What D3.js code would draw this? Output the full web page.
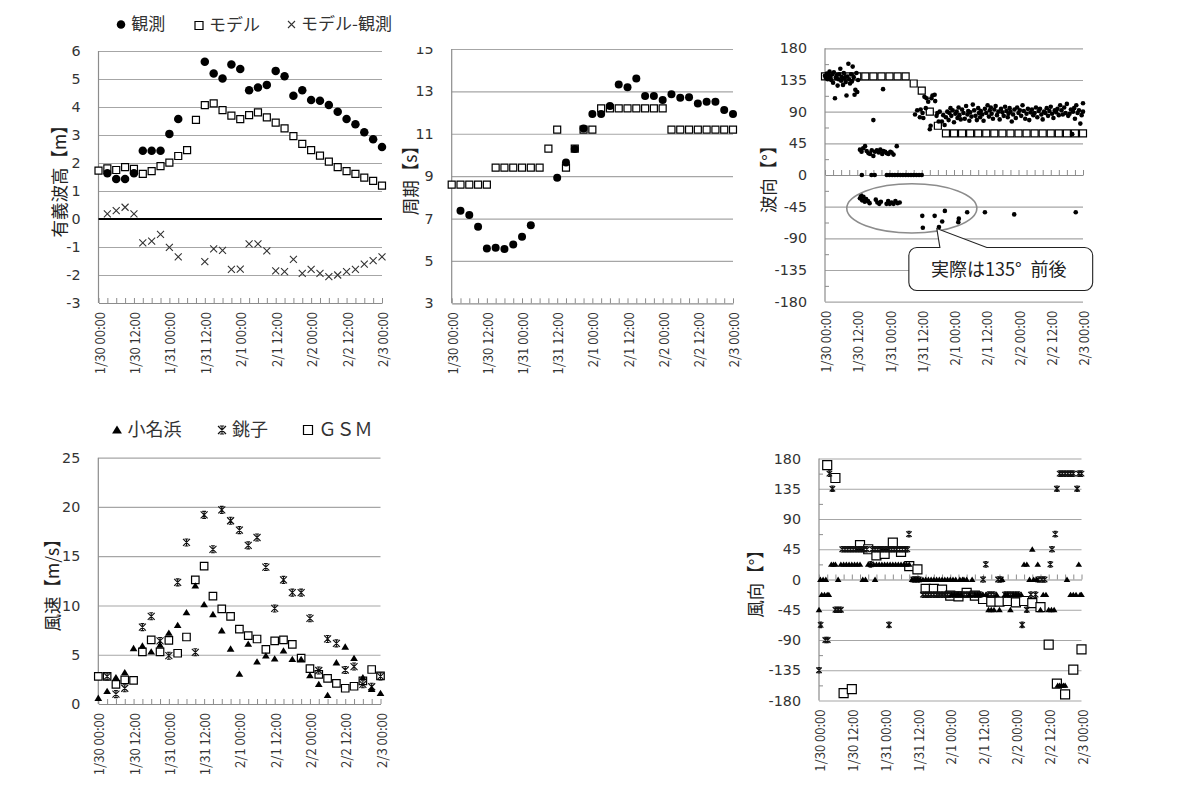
<!DOCTYPE html>
<html>
<head>
<meta charset="utf-8">
<script src="https://cdn.jsdelivr.net/npm/d3@7"></script>
<style>
  body { margin: 0; background: #fff; }
  svg { display: block; }
</style>
</head>
<body>
<svg id="chart" width="1189" height="790"></svg>
<script>
// ---------- time axis (hours from 1/30 00:00) ----------
const hours3h = [0,3,6,9,12,15,18,21,24,27,30,33,36,39,42,45,48,51,54,57,60,63,66,69,72,75,78,81,84,87,90,93,96];
const timeTickHours = [0,12,24,36,48,60,72,84,96];
const timeTickLabels = ["1/30 00:00","1/30 12:00","1/31 00:00","1/31 12:00","2/1 00:00","2/1 12:00","2/2 00:00","2/2 12:00","2/3 00:00"];

// ---------- significant wave height [m] ----------
const heightObs   = [null,1.63,1.43,1.43,1.63,2.44,2.44,2.44,3.04,3.57,null,null,5.62,5.2,5.02,5.52,5.36,4.6,4.7,4.79,5.29,5.1,4.4,4.6,4.25,4.22,4.07,3.83,3.57,3.38,3.1,2.85,2.57];
const heightModel = [1.73,1.81,1.75,1.85,1.79,1.61,1.71,1.89,2.01,2.25,2.46,3.54,4.07,4.13,3.89,3.69,3.57,3.71,3.81,3.63,3.44,3.24,2.96,2.68,2.46,2.26,2.05,1.85,1.71,1.61,1.48,1.36,1.19];
const heightDiff  = [null,0.18,0.30,0.42,0.18,-0.85,-0.79,-0.55,-1.01,-1.35,null,null,-1.52,-1.07,-1.12,-1.8,-1.79,-0.89,-0.89,-1.14,-1.85,-1.88,-1.44,-1.94,-1.8,-1.94,-2.06,-2.0,-1.88,-1.8,-1.61,-1.49,-1.35];
const heightTicks = [-3,-2,-1,0,1,2,3,4,5,6];

// ---------- wave period [s] ----------
const periodObs   = [null,7.37,7.17,6.61,5.59,5.62,5.56,5.78,6.14,6.68,null,null,8.92,9.65,10.28,11.25,11.93,11.93,12.31,13.33,13.19,13.61,12.78,12.78,12.59,12.87,12.7,12.72,12.43,12.51,12.51,12.12,11.93];
const periodModel = [8.6,8.6,8.6,8.6,8.6,9.4,9.4,9.4,9.4,9.4,9.4,10.3,11.2,9.4,10.3,11.2,11.2,12.2,12.2,12.2,12.2,12.2,12.2,12.2,12.2,11.2,11.2,11.2,11.2,11.2,11.2,11.2,11.2];
const periodTicks = [3,5,7,9,11,13,15];

// ---------- wave direction [deg]: observed [hour, deg], model every 3 h ----------
const waveDirObs = [
  [0,141],[0.3,138],[0.7,144],[1,136],[1.3,142],[1.7,147],[2,139],[2.3,135],[2.7,143],[3,131],[3.3,146],[3.7,109],
  [4,138],[4.3,141],[4.7,127],[5,136],[5.3,143],[5.7,151],[6,134],[6.3,139],[6.7,128],[7,145],[7.3,137],[7.7,132],
  [8,113],[8.3,140],[8.7,158],[9,136],[9.3,130],[9.7,143],[10,133],[10.3,154],[10.7,139],[11,114],[11.3,121],[11.7,145],
  [12,118],[12.3,135],
  [13,36],[13.6,33],[14.2,38],[14.9,41],[15.5,34],[16.2,31],[16.8,30],[17.4,35],[18,27],[18.6,33],[19.3,35],[20,32],
  [20.6,36],[21.3,30],[21.7,34],[22.4,33],[23,31],[23.6,30],[24.3,33],[24.8,32],[25.5,29],[26.7,41],[18,78],[21.6,122],
  [13.7,0],[17.3,0],[18.5,0],[23,0],[24,0],[25,0],[26,0],[27,0],[28,0],[29,0],[30,0],[31,0],[32,0],[33,0],[34,0],[35,0],[36,0],
  [13,-33],[13.4,-29],[13.8,-36],[14.3,-31],[14.8,-38],[15.3,-34],[16,-37],[16.6,-40],[18.9,-35],[19.5,-39],[20.2,-41],
  [20.8,-38],[22.9,-41],[23.5,-37],[24.1,-41],[24.8,-39],[25.5,-41],[26.2,-37],[27,-40],[27.8,-39],
  [36.2,-58],[36.4,-75],[40.8,-58],[42.4,-74],[43.6,-66],[44.6,-51],[49.6,-67],[49.8,-62],[52.9,-53],[59.5,-53],[70.4,-56],[93.3,-53],
  [33.5,86],[34.3,92],[35.3,82],[35.6,93],[36.3,88],[36.6,81],[37,111],[37.5,95],[37.8,109],[38.4,104],[39,65],[39.3,70],
  [39.6,109],[40,113],[40.8,114],[41,105],[41.5,84],[41.8,88],[42.3,76],[42.7,90],[43.5,76],[44,85],[44.5,71],
  [45,82],[45.5,90],[46,78],[46.3,88],[46.7,95],[47,84],[47.5,92],[48,75],[48.5,87],[49,90],[49.3,81],[49.7,96],
  [50,85],[50.5,79],[51,93],[51.5,88],[52,80],[52.5,98],[53,86],[53.3,91],[53.7,77],[54,89],[54.5,83],[55,100],
  [55.5,92],[56,84],[56.5,78],[57,95],[57.3,88],[57.7,82],[58,91],[58.5,86],[59,77],[59.5,94],[60,88],[60.5,99],
  [61,83],[61.3,92],[61.7,96],[62,87],[62.5,80],[63,93],[63.5,98],[64,85],[64.5,90],[65,79],[65.5,94],[66,89],
  [66.5,84],[67,97],[67.5,91],[68,82],[68.3,87],[68.7,95],[69,90],[69.5,76],[70,86],[70.5,93],[71,81],[71.5,96],
  [72,88],[72.5,92],[73,84],[73.5,99],[74,91],[74.5,80],[75,87],[75.5,94],[76,78],[76.5,89],[77,93],[77.5,85],
  [78,88],[78.5,96],[79,82],[79.5,91],[80,94],[80.5,86],[81,79],[81.5,90],[82,88],[82.5,95],[83,84],[83.5,91],
  [84,97],[84.5,87],[85,81],[85.5,92],[86,89],[86.5,94],[87,85],[87.5,99],[88,92],[88.5,86],[89,96],[89.5,88],
  [90,101],[90.5,84],[91,87],[91.5,93],[92,58],[92.3,90],[92.7,95],[93,80],[93.5,99],[94,88],[94.5,92],[95,73],
  [95.5,85],[96,102],[96,90]
];
const waveDirModel = [140,140,140,140,140,140,140,140,140,140,140,130,120,90,70,59,59,59,59,59,59,59,59,59,59,59,59,59,59,59,59,59,59];
const dirTicks = [-180,-135,-90,-45,0,45,90,135,180];
const dirMinorTicks = [-157.5,-112.5,-67.5,-22.5,22.5,67.5,112.5,157.5];

// ---------- wind speed [m/s] every 3 h ----------
const onahamaSpeed = [0.6,1.3,2.7,3.2,5.65,5.9,5.3,6.0,7.2,8.0,9.3,12.0,10.1,9.1,7.45,5.6,3.05,6.1,4.3,4.9,4.6,5.4,4.55,4.55,2.9,2.0,0.9,4.2,5.8,4.65,2.7,1.5,1.1];
const choshiSpeed  = [null,2.8,1.0,1.6,null,7.8,8.9,6.4,4.9,12.35,16.4,5.25,19.2,15.7,19.7,18.6,17.65,16.1,16.9,13.9,9.7,12.6,11.3,11.3,8.7,3.4,6.6,6.15,3.45,3.8,2.0,1.75,2.8];
const gsmSpeed     = [2.8,2.8,2.0,2.45,2.4,5.3,6.5,5.3,6.45,5.15,6.8,12.6,14.0,10.95,9.65,8.9,7.6,6.95,6.6,5.55,6.4,6.5,6.05,4.65,3.6,3.0,2.6,2.1,1.6,1.8,2.35,3.5,2.85];
const speedTicks = [0,5,10,15,20,25];

// ---------- wind direction [deg] ----------
const onahamaDir = [
  [0,-45],[0.5,0],[1,-22.5],[1.5,0],[2,-22.5],[2.5,0],[3,-22.5],[3.6,-22.5],[4.5,22.5],[5.3,22.5],[6,22.5],[7,0],
  [8,22.5],[9,22.5],[10,22.5],[11,22.5],[12,22.5],[13,22.5],[14,22.5],[15,22.5],[16,0],[17,0],[18,22.5],[19,22.5],
  [20,22.5],[20.5,0],[21,22.5],[22,22.5],[23,22.5],[24,22.5],[25,22.5],[26,22.5],[27,22.5],[28,22.5],[29,22.5],
  [30,22.5],[31,22.5],[32,22.5],[33,22.5],
  [34,0],[35,0],[36,0],[37,0],[38,0],[39,0],[40,0],[41,0],[42,0],[43,0],[44,0],[45,0],[46,0],[47,0],[48,0],[49,0],[50,0],
  [48.5,-22.5],[49.5,-22.5],[50.5,-22.5],[51,-22.5],[51.5,0],[52,-22.5],[52.5,0],[53,0],[54,0],[55,-22.5],[56,0],
  [57,-22.5],[58,-22.5],[59,-22.5],[60,-22.5],[61,-22.5],[62,-45],[63,-45],[64,-45],[65,-22.5],[66,-45],[67,0],
  [68,-22.5],[69,-22.5],[70,-45],[71,-22.5],[72,-22.5],[73,-22.5],[74,-22.5],[75,22.5],[76,22.5],[77,0],[78,45],
  [78.5,0],[79.5,0],[80,22.5],[81,-45],[82,-22.5],[83,-22.5],[84,-45],[85,-45],[86,-45],[87.3,-157.5],[88,-157.5],
  [88.7,-157.5],[89.4,-157.5],[90,-157.5],[90.7,0],[92,-22.5],[93,-22.5],[94,-22.5],[95,22.5],[95.5,-22.5],[96,-22.5]
];
const choshiDir = [
  [0,-135],[0.6,-67.5],[2.3,-90],[3.2,-90],[3.8,157.5],[4.9,135],[6,-45],[7,-45],[8,-45],
  [8.5,45],[9.5,45],[10.5,45],[11.5,45],[12.5,45],[13.5,45],[14.5,45],[15.5,45],[16.5,45],[17.5,45],[18.9,22.5],
  [19.5,45],[20.5,45],[21.5,45],[22.5,45],[23.5,45],[24.5,45],[25.6,-67.5],[25.5,45],[26.5,45],[27.5,45],[28.5,45],
  [29.5,45],[30.5,45],[31.5,45],[32.3,45],[32.9,67.5],[34.5,0],[35.5,0],[36.5,0],
  [38,-22.5],[39,-22.5],[40,-22.5],[41,-22.5],[42,-22.5],[43,-22.5],[44,-22.5],[45,-22.5],[46,-22.5],[47,-22.5],
  [48,-22.5],[49,-22.5],[50,-22.5],[51,-22.5],[52,-22.5],[53,-22.5],[54,-22.5],[55,-22.5],[56,-22.5],[57,-22.5],
  [58,-22.5],[59,-22.5],[60,0],[61,22.5],[62,-22.5],[63,-22.5],[64,-22.5],[65.5,0],[66.5,0],[68,-22.5],[69,-22.5],
  [70,-22.5],[71,-22.5],[72,-22.5],[73,-22.5],[74.3,-67.5],[76,-45],[77.5,-22.5],[79.2,-22.5],[80.2,0],[81.5,0],
  [82.5,0],[84.6,22.5],[85.2,45],[86.4,67.5],[87,135],[88,157.5],[89,157.5],[90,157.5],[91,157.5],[92,157.5],
  [93,157.5],[94.4,135],[95,157.5],[96,157.5]
];
const gsmDir = [null,170,151,-169,-163,51,45,36,38,55,41,20,15,-14,-14,-15,-24,-25,-20,-24,-29,-33,-33,-32,-34,-32,-35,-41,-97,-155,-171,-134,-104];

// ---------- drawing ----------
const NUM = "DejaVu Sans";
const JP = "'Noto Sans CJK JP', 'Noto Sans CJK SC', sans-serif";
const TXT = "#333";
const GRID = "#a6a6a6";
const AXIS = "#8c8c8c";
const svg = d3.select("#chart");

function makePanel(b, yDomain) {
  return {
    b,
    x: d3.scaleLinear().domain([0, 96]).range([b.left, b.right]),
    y: d3.scaleLinear().domain(yDomain).range([b.bottom, b.top])
  };
}

function drawFrame(p, opt) {
  const { x, y, b } = p;
  const g = svg.append("g");
  // horizontal gridlines
  g.append("g")
    .attr("transform", `translate(${b.left},0)`)
    .call(d3.axisLeft(y).tickValues(opt.grid).tickSize(-(b.right - b.left)).tickFormat(""))
    .call(a => { a.select(".domain").remove(); a.selectAll("line").attr("stroke", GRID).attr("stroke-width", 1.2); });
  // value labels
  const yl = g.append("g")
    .attr("transform", `translate(${b.left},0)`)
    .call(d3.axisLeft(y).tickValues(opt.ticks).tickSize(0).tickPadding(18).tickFormat(d => String(d)))
    .call(a => {
      a.select(".domain").remove();
      a.attr("font-family", NUM).attr("font-size", 14.3);
      a.selectAll("text").attr("fill", TXT);
    });
  if (opt.clipTop != null) {
    // the topmost label sits against the upper edge of the drawing area and is cut there
    const id = "clip" + Math.round(b.left);
    svg.append("clipPath").attr("id", id).append("rect")
      .attr("x", -600).attr("y", opt.clipTop).attr("width", 1800).attr("height", 790);
    yl.attr("clip-path", `url(#${id})`);
  }
  // minor ticks on the value axis
  if (opt.minor) {
    g.append("g")
      .attr("transform", `translate(${b.left},0)`)
      .call(d3.axisRight(y).tickValues(opt.minor).tickSize(4).tickFormat(""))
      .call(a => { a.select(".domain").remove(); a.selectAll("line").attr("stroke", AXIS); });
  }
  // vertical axis line
  g.append("line").attr("x1", b.left).attr("x2", b.left).attr("y1", b.top).attr("y2", b.bottom)
    .attr("stroke", AXIS).attr("stroke-width", 1.2);
  // category axis with 3-hour ticks
  g.append("g")
    .attr("transform", `translate(0,${y(opt.axisAt)})`)
    .call(d3.axisTop(x).tickValues(d3.range(0, 97, 3)).tickSize(5).tickSizeOuter(0).tickFormat(""))
    .call(a => {
      a.select(".domain").attr("stroke", opt.axisColor || AXIS).attr("stroke-width", opt.axisWidth || 1.2);
      a.selectAll(".tick line").attr("stroke", AXIS);
    });
  // rotated date labels
  g.append("g")
    .attr("transform", `translate(0,${b.bottom})`)
    .call(d3.axisBottom(x).tickValues(timeTickHours).tickSize(0).tickFormat((d, i) => timeTickLabels[i]))
    .call(a => {
      a.select(".domain").remove();
      a.attr("font-family", JP).attr("font-size", 13);
      a.selectAll("text").attr("fill", TXT)
        .attr("transform", "rotate(-90)").attr("text-anchor", "end")
        .attr("x", -9).attr("y", 1).attr("dy", "0.35em");
    });
  // axis title
  svg.append("text")
    .attr("transform", `translate(${opt.titleX},${(b.top + b.bottom) / 2}) rotate(-90)`)
    .attr("text-anchor", "middle").attr("dominant-baseline", "central")
    .attr("font-family", JP).attr("font-size", 17.5).attr("fill", "#222")
    .text(opt.title);
}

function markerPath(kind, s) {
  const h = s / 2;
  switch (kind) {
    case "circle": return d3.symbol(d3.symbolCircle, Math.PI * h * h)();
    case "square": return `M${-h},${-h}h${s}v${s}h${-s}Z`;
    case "triangle": return `M0,${-h}L${h * 1.1},${h * 0.8}L${-h * 1.1},${h * 0.8}Z`;
    case "x": return `M${-h},${-h}L${h},${h}M${-h},${h}L${h},${-h}`;
    case "star": {
      const c = h * 0.55;
      return `M${-h},${-h}L${h},${h}M${-h},${h}L${h},${-h}M0,${-h}V${h}M${-c},${-h}H${c}M${-c},${h}H${c}`;
    }
  }
}

function styleMarker(sel, kind) {
  if (kind === "circle" || kind === "triangle") sel.attr("fill", "#000").attr("stroke", "none");
  else if (kind === "square") sel.attr("fill", "#fff").attr("stroke", "#000").attr("stroke-width", 1.2);
  else if (kind === "x") sel.attr("fill", "none").attr("stroke", "#333").attr("stroke-width", 1.1);
  else sel.attr("fill", "none").attr("stroke", "#111").attr("stroke-width", 1.1);
  return sel;
}

function plot(p, pts, kind, size) {
  const d = markerPath(kind, size);
  const sel = svg.append("g").selectAll("path")
    .data(pts.filter(v => v[1] != null))
    .join("path")
    .attr("transform", v => `translate(${p.x(v[0])},${p.y(v[1])})`)
    .attr("d", d);
  styleMarker(sel, kind);
}

function legendItem(x, y, kind, size, label, fontSize) {
  const m = svg.append("path").attr("transform", `translate(${x},${y})`).attr("d", markerPath(kind, size));
  styleMarker(m, kind);
  svg.append("text").attr("x", x + size / 2 + 6).attr("y", y - 2)
    .attr("dominant-baseline", "central").attr("font-family", JP)
    .attr("font-size", fontSize).attr("fill", TXT).text(label);
}

// --- panel: significant wave height ---
const pH = makePanel({ left: 98.5, right: 382, top: 51, bottom: 303 }, [-3, 6]);
drawFrame(pH, { grid: [-2, -1, 1, 2, 3, 4, 5, 6], ticks: heightTicks, axisAt: -3, titleX: 58, title: "有義波高【m】" });
svg.append("line").attr("x1", pH.b.left).attr("x2", pH.b.right)
  .attr("y1", pH.y(0)).attr("y2", pH.y(0)).attr("stroke", "#000").attr("stroke-width", 2);
plot(pH, d3.zip(hours3h, heightDiff), "x", 7);
plot(pH, d3.zip(hours3h, heightModel), "square", 7);
plot(pH, d3.zip(hours3h, heightObs), "circle", 8.5);
legendItem(121, 24.5, "circle", 8.5, "観測", 17);
legendItem(199, 25.5, "square", 8, "モデル", 17);
legendItem(291.5, 24.5, "x", 7, "モデル-観測", 17);

// --- panel: wave period ---
const pT = makePanel({ left: 451.7, right: 733, top: 49, bottom: 303.3 }, [3, 15]);
drawFrame(pT, { grid: [5, 7, 9, 11, 13, 15], ticks: periodTicks, axisAt: 3, titleX: 409, title: "周期【s】", clipTop: 47 });
plot(pT, d3.zip(hours3h, periodModel), "square", 7);
plot(pT, d3.zip(hours3h, periodObs), "circle", 8);

// --- panel: wave direction ---
const pD = makePanel({ left: 825, right: 1083, top: 48.3, bottom: 301.7 }, [-180, 180]);
drawFrame(pD, { grid: [-180, -135, -90, -45, 45, 90, 135, 180], ticks: dirTicks, minor: dirMinorTicks, axisAt: 0, titleX: 767, title: "波向【°】" });
plot(pD, d3.zip(hours3h, waveDirModel), "square", 7);
plot(pD, waveDirObs, "circle", 4.6);

// note on the misread directions
const ell = { h: 32.3, v: -47.4, rh: 24.2, rv: 35 };
svg.append("ellipse")
  .attr("cx", pD.x(ell.h)).attr("cy", pD.y(ell.v))
  .attr("rx", pD.x(ell.h + ell.rh) - pD.x(ell.h)).attr("ry", pD.y(ell.v - ell.rv) - pD.y(ell.v))
  .attr("fill", "none").attr("stroke", "#8c8c8c").attr("stroke-width", 1.6);
{
  const x0 = pD.x(31.2), x1 = pD.x(99.6), y0 = pD.y(-103), y1 = pD.y(-164), r = 8;
  const bx0 = pD.x(42.75), bx1 = pD.x(60.2), tx = pD.x(41.6), ty = pD.y(-76);
  const path = d3.path();
  path.moveTo(x0 + r, y0);
  path.lineTo(bx0, y0);
  path.lineTo(tx, ty);
  path.lineTo(bx1, y0);
  path.lineTo(x1 - r, y0);
  path.arcTo(x1, y0, x1, y0 + r, r);
  path.lineTo(x1, y1 - r);
  path.arcTo(x1, y1, x1 - r, y1, r);
  path.lineTo(x0 + r, y1);
  path.arcTo(x0, y1, x0, y1 - r, r);
  path.lineTo(x0, y0 + r);
  path.arcTo(x0, y0, x0 + r, y0, r);
  path.closePath();
  svg.append("path").attr("d", path.toString()).attr("fill", "#fff").attr("stroke", "#222").attr("stroke-width", 1.1);
  svg.append("text").attr("x", (x0 + x1) / 2 - 2).attr("y", (y0 + y1) / 2 - 1)
    .attr("text-anchor", "middle").attr("dominant-baseline", "central")
    .attr("font-family", JP).attr("font-size", 18).attr("fill", "#222")
    .text("実際は135°\u2002前後");
}

// --- panel: wind speed ---
const pS = makePanel({ left: 98.3, right: 380.5, top: 457.7, bottom: 704 }, [0, 25]);
drawFrame(pS, { grid: [5, 10, 15, 20, 25], ticks: speedTicks, axisAt: 0, titleX: 51, title: "風速【m/s】" });
plot(pS, d3.zip(hours3h, gsmSpeed), "square", 7.5);
plot(pS, d3.zip(hours3h, choshiSpeed), "star", 7);
plot(pS, d3.zip(hours3h, onahamaSpeed), "triangle", 7);
legendItem(117, 430, "triangle", 9, "小名浜", 18);
legendItem(222, 430, "star", 8, "銚子", 18);
legendItem(308, 430, "square", 9, "ＧＳＭ", 18);

// --- panel: wind direction ---
const pW = makePanel({ left: 819, right: 1081.5, top: 458.5, bottom: 700.5 }, [-180, 180]);
drawFrame(pW, { grid: [-180, -135, -90, -45, 45, 90, 135, 180], ticks: dirTicks, minor: dirMinorTicks, axisAt: 0, titleX: 754, title: "風向【°】" });
plot(pW, d3.zip(hours3h, gsmDir), "square", 9);
plot(pW, choshiDir, "star", 5.5);
plot(pW, onahamaDir, "triangle", 6);
</script>
</body>
</html>
